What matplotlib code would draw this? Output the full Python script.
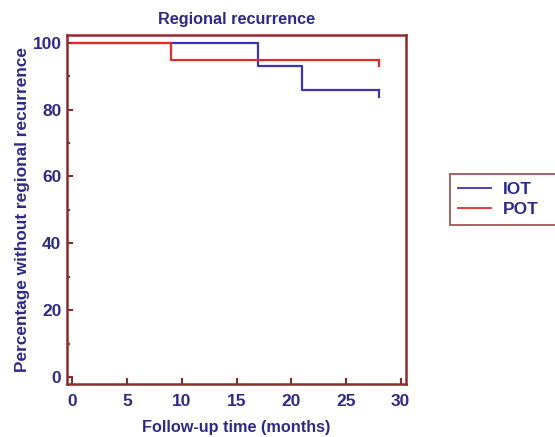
import matplotlib
matplotlib.use('Agg')
import matplotlib.pyplot as plt
from matplotlib.ticker import MultipleLocator

# Kaplan-Meier style step data (months, % without regional recurrence)
iot_time = [0, 17, 21, 28]
iot_pct = [100, 92.9, 85.7, 85.7]
pot_time = [0, 9, 28]
pot_pct = [100, 94.7, 94.7]
series_names = ['IOT', 'POT']

TXT = '#2e2a88'
SPINE = '#8b2b2b'
BLUE = '#3b33b5'
RED = '#e52a2a'

plt.rcParams['font.family'] = ['Liberation Sans', 'DejaVu Sans']
plt.rcParams['font.weight'] = 'bold'

fig = plt.figure(figsize=(5.55, 4.37), dpi=100)
ax = fig.add_axes([67 / 555, 1 - 384 / 437, (406 - 67) / 555, (384 - 35) / 437])

for t, p, c, name in [(iot_time, iot_pct, BLUE, series_names[0]),
                      (pot_time, pot_pct, RED, series_names[1])]:
    ax.step(t, p, where='post', color=c, lw=1.6, label=name)
    # censor mark at the end of follow-up
    ax.plot([t[-1], t[-1]], [p[-1], p[-1] - 1.8], color=c, lw=1.6)

ax.set_xlim(-0.5, 30.5)
ax.set_ylim(-2.1, 102.3)
ax.xaxis.set_major_locator(MultipleLocator(5))
ax.yaxis.set_major_locator(MultipleLocator(20))
ax.yaxis.set_minor_locator(MultipleLocator(10))
ax.tick_params(direction='in', color=SPINE, width=1.5, length=4,
               labelsize=12.5, labelcolor=TXT)
ax.tick_params(which='minor', direction='in', color=SPINE, width=1.5, length=2.5)
ax.tick_params(axis='y', pad=4)
ax.tick_params(axis='x', pad=7)
for lab in ax.get_xticklabels() + ax.get_yticklabels():
    lab.set_fontweight('bold')
for s in ax.spines.values():
    s.set_color(SPINE)
    s.set_linewidth(1.8)

ax.set_title('Regional recurrence', fontsize=11.7, fontweight='bold', color=TXT, pad=8)
ax.set_xlabel('Follow-up time (months)', fontsize=11.7, fontweight='bold', color=TXT, labelpad=8)
ax.set_ylabel('Percentage without regional recurrence', fontsize=12.4,
              fontweight='bold', color=TXT, labelpad=2)

# legend box runs off the right edge of the figure, as in the original
leg = fig.legend(loc='upper left', bbox_to_anchor=(450 / 555, 1 - 174 / 437, 0.25, 0),
                 mode='expand', frameon=True, fancybox=False, fontsize=12.5,
                 handlelength=1.9, borderpad=0.45, labelspacing=0.3,
                 handletextpad=0.7, borderaxespad=0)
leg.get_frame().set_edgecolor(SPINE)
leg.get_frame().set_linewidth(1.3)
for t in leg.get_texts():
    t.set_color(TXT)
    t.set_fontweight('bold')
for h in leg.legend_handles:
    h.set_linewidth(1.3)

fig.savefig('out.png', dpi=100)
